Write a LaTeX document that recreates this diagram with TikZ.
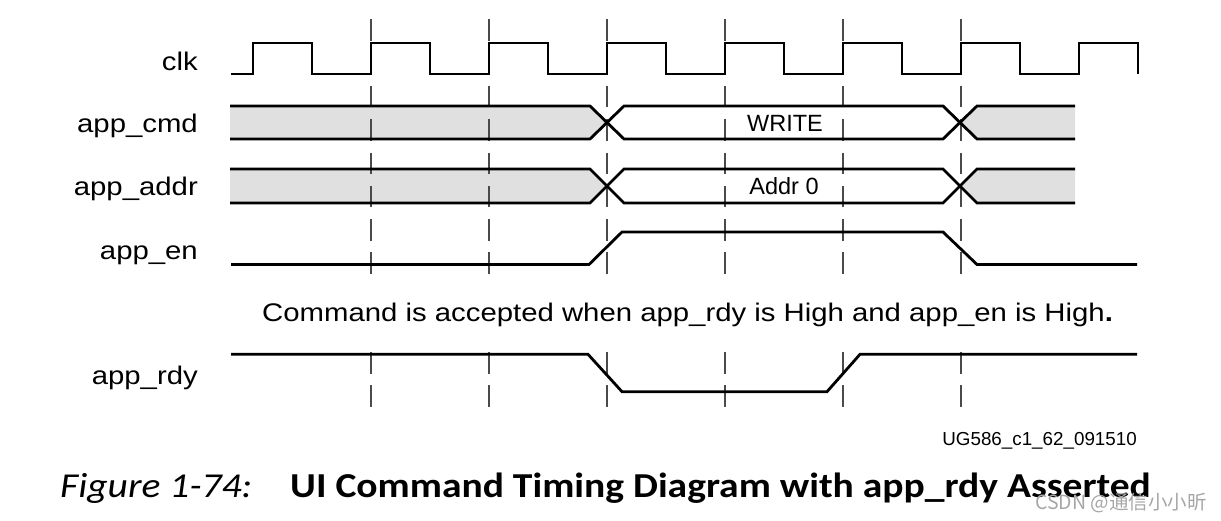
\documentclass[tikz,border=0pt]{standalone}
\usepackage{fontspec}
\setmainfont{Liberation Sans}
\newfontfamily\lblfont[FakeStretch=1.15]{Liberation Sans}
\newfontfamily\capfont[FakeStretch=1.13]{Carlito}
\newfontfamily\cjkfont{Noto Sans CJK SC}
\definecolor{busgray}{HTML}{E0E0E0}
\definecolor{gridgray}{HTML}{4A4A4A}
\begin{document}
\begin{tikzpicture}[x=1pt,y=-1pt,
  sig/.style={line width=2.8pt, black, line join=miter},
  gridline/.style={line width=1.9pt, gridgray, dash pattern=on 21.5pt off 11.8pt},
  busfill/.style={fill=busgray},
  siglabel/.style={anchor=base east, inner sep=0pt, font=\lblfont\fontsize{25.5}{30}\selectfont},
  buslabel/.style={anchor=base, inner sep=0pt, font=\fontsize{23.5}{28}\selectfont},
]
\useasboundingbox (0,0) rectangle (1221,521);

% signal names
\node[siglabel] (lclk)  at (198,70.7)  {clk};
\node[siglabel] (lcmd)  at (198,132.3) {app\_cmd};
\node[siglabel] (laddr) at (198,195.5) {app\_addr};
\node[siglabel] (len)   at (198,260)   {app\_en};
\node[siglabel] (lrdy)  at (198,384.3) {app\_rdy};

% bus fills
\fill[busfill] (230,106) -- (590,106) -- (607,122.5) -- (590,139) -- (230,139) -- cycle;
\fill[busfill] (960,122.5) -- (977,106) -- (1075,106) -- (1075,139) -- (977,139) -- cycle;
\fill[busfill] (230,169) -- (590,169) -- (607,186) -- (590,203) -- (230,203) -- cycle;
\fill[busfill] (960,186) -- (977,169) -- (1075,169) -- (1075,203) -- (977,203) -- cycle;

% clock-edge grid
\foreach \x in {371,489,607,725,843,961} {
  \draw[gridline] (\x,19.4) -- (\x,276);
  \draw[gridline] (\x,352) -- (\x,407);
}

% clk
\draw[sig] (231,74) foreach \k in {0,...,7} {
  -- ({253+118*\k},74) -- ({253+118*\k},43) -- ({312+118*\k},43) -- ({312+118*\k},74) };

% app_cmd
\draw[sig] (230,106) -- (590,106) -- (624,139) -- (943,139) -- (977,106) -- (1075,106);
\draw[sig] (230,139) -- (590,139) -- (624,106) -- (943,106) -- (977,139) -- (1075,139);
\node[buslabel] (write) at (785,131.7) {WRITE};

% app_addr
\draw[sig] (230,169) -- (590,169) -- (624,203) -- (943,203) -- (977,169) -- (1075,169);
\draw[sig] (230,203) -- (590,203) -- (624,169) -- (943,169) -- (977,203) -- (1075,203);
\node[buslabel] (addr) at (784,195) {Addr 0};

% app_en
\draw[sig] (231,264.5) -- (589,264.5) -- (622,232) -- (943,232) -- (977,264.5) -- (1137,264.5);

% note
\node[anchor=base west, inner sep=0pt, font=\lblfont\fontsize{25.5}{30}\selectfont] (note) at (262,321.5)
  {Command is accepted when app\_rdy is High and app\_en is High\textbf{.}};

% app_rdy
\draw[sig] (231,354.3) -- (588,354.3) -- (622,391.7) -- (827,391.7) -- (860,354.3) -- (1137,354.3);

% figure id
\node[anchor=base east, inner sep=0pt, font=\fontsize{18.8}{22}\selectfont] (ug) at (1137,445.5) {UG586\_c1\_62\_091510};

% caption
\node[anchor=base west, inner sep=0pt, font=\capfont\fontsize{35}{42}\selectfont] (figno) at (60,497) {\itshape Figure 1-74:};
\node[anchor=base west, inner sep=0pt, font=\capfont\fontsize{35}{42}\selectfont] (title) at (290,497) {\bfseries UI Command Timing Diagram with app\_rdy Asserted};

% watermark
\node[anchor=base west, inner sep=0pt, font=\cjkfont\fontsize{19.5}{22}\selectfont, text=gray!70] (wm) at (1035,509) {CSDN @通信小小昕};
\end{tikzpicture}
\end{document}
